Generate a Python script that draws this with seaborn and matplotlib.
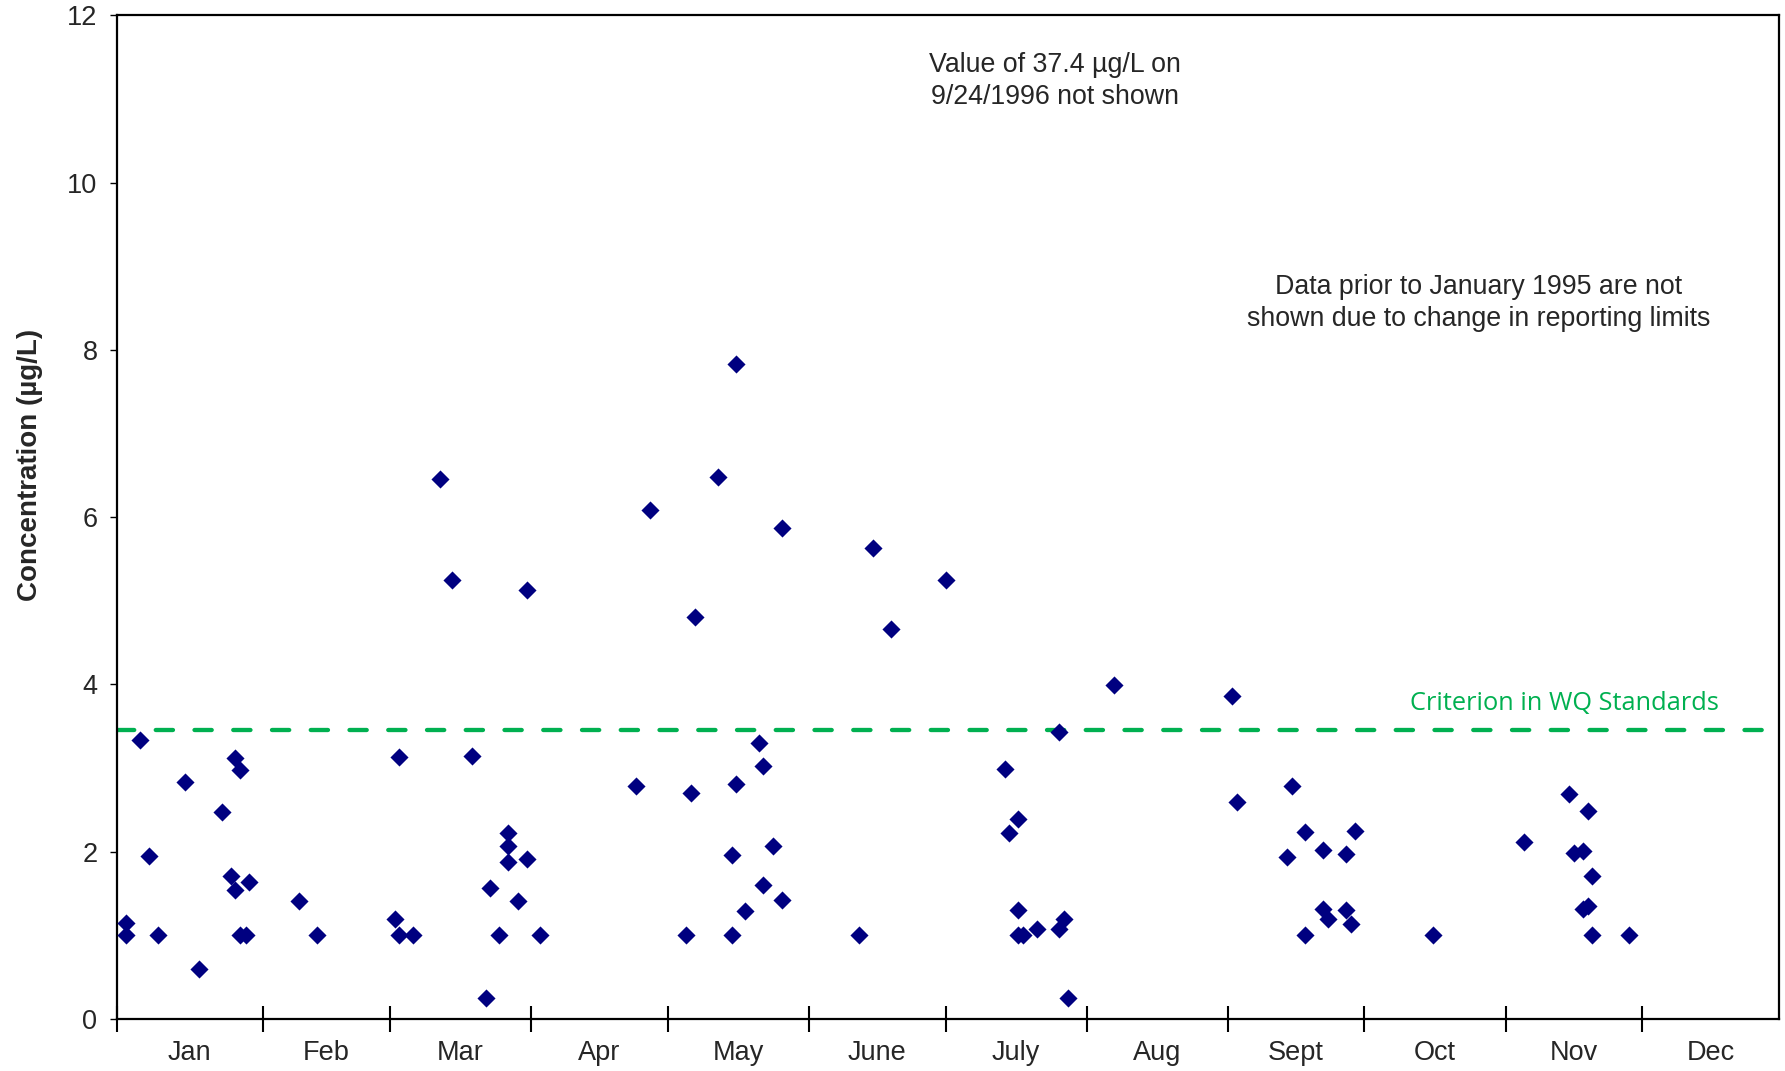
import matplotlib
matplotlib.use("Agg")
import matplotlib.pyplot as plt
import seaborn as sns
import pandas as pd
import numpy as np

# Sample day-of-year (1 = Jan 1) and measured concentration (ug/L)
day_of_year = [
    2, 2, 5, 7, 9, 15, 18, 23, 25, 26, 26, 27, 27, 28.3, 29,
    40, 44,
    61, 62, 62, 65, 71, 73.5, 78, 81, 82, 84, 86, 86, 86, 88, 90, 90,
    93, 114, 117,
    125, 126, 127, 132, 135, 135, 136, 136, 138, 141, 142, 142, 144, 146, 146,
    163, 166, 170,
    182, 195, 196, 198, 198, 198, 199, 202, 207, 207, 208, 209,
    219,
    245, 246, 257, 258, 261, 261, 265, 265, 266, 270, 270, 271, 272,
    289,
    309, 319, 320, 322, 322, 323, 323, 324, 324, 332,
]
concentration = [
    1.15, 1.0, 3.34, 1.95, 1.0, 2.83, 0.6, 2.47, 1.71, 1.54, 3.12, 2.98, 1.0, 1.0, 1.64,
    1.41, 1.0,
    1.19, 1.0, 3.13, 1.0, 6.46, 5.25, 3.14, 0.25, 1.57, 1.0, 2.22, 2.07, 1.88, 1.41, 1.91, 5.13,
    1.0, 2.79, 6.08,
    1.0, 2.70, 4.81, 6.48, 1.96, 1.0, 2.81, 7.83, 1.29, 3.30, 3.03, 1.60, 2.07, 1.42, 5.87,
    1.0, 5.63, 4.66,
    5.25, 2.99, 2.22, 2.39, 1.30, 1.0, 1.0, 1.07, 3.43, 1.07, 1.20, 0.25,
    3.99,
    3.86, 2.59, 1.94, 2.79, 2.24, 1.0, 2.02, 1.32, 1.20, 1.97, 1.30, 1.13, 2.25,
    1.0,
    2.12, 2.69, 1.98, 2.01, 1.31, 1.35, 2.49, 1.71, 1.0, 1.0,
]

month_labels = ["Jan", "Feb", "Mar", "Apr", "May", "June",
                "July", "Aug", "Sept", "Oct", "Nov", "Dec"]
month_starts = [0, 32, 60, 91, 121, 152, 182, 213, 244, 274, 305, 335, 365]
criterion_value = 3.46

df = pd.DataFrame({"day": day_of_year, "conc": concentration})

sns.set_style("white")
plt.rcParams["font.family"] = ["Liberation Sans", "DejaVu Sans"]

fig = plt.figure(figsize=(17.85, 10.71), dpi=100)
ax = fig.add_axes([0.0655, 0.0486, 0.931, 0.9370])

sns.scatterplot(data=df, x="day", y="conc", marker="D", s=85,
                color="#000080", edgecolor="#000080", linewidth=0, ax=ax,
                zorder=3)

# Water-quality criterion
ax.axhline(criterion_value, color="#00B050", linewidth=3.1,
           dashes=(4, 5), dash_capstyle="round", zorder=2)
ax.text(351.8, criterion_value + 0.31, "Criterion in WQ Standards",
        color="#00B050", fontsize=18.3, ha="right", va="center",
        family=["Open Sans", "DejaVu Sans"])

ax.text(206, 11.22, "Value of 37.4 \u00b5g/L on\n9/24/1996 not shown",
        ha="center", va="center", fontsize=19.3, linespacing=1.3)
ax.text(299, 8.56, "Data prior to January 1995 are not\nshown due to change in reporting limits",
        ha="center", va="center", fontsize=19.3, linespacing=1.3)

ax.set_xlim(0, 365)
ax.set_ylim(0, 12)

# Month boundaries as major ticks, month names centered as minor labels
ax.set_xticks(month_starts[:-1])
ax.set_xticklabels([])
centers = [(a + b) / 2 for a, b in zip(month_starts[:-1], month_starts[1:])]
ax.set_xticks(centers, minor=True)
ax.set_xticklabels(month_labels, minor=True, fontsize=19.5)
ax.tick_params(axis="x", which="major", direction="inout", length=19,
               width=1.5, color="black", bottom=True)
ax.tick_params(axis="x", which="minor", length=0, pad=15, bottom=True)

ax.set_yticks(np.arange(0, 13, 2))
ax.tick_params(axis="y", which="major", direction="out", length=5,
               width=1, color="black", labelsize=19.5, left=True, pad=9)

ax.set_xlabel("")
ax.set_ylabel("Concentration (\u00b5g/L)", fontsize=20, fontweight="bold")
ax.yaxis.set_label_coords(-0.0445, 0.552)

for sp in ax.spines.values():
    sp.set_color("black")
    sp.set_linewidth(1.6)
    sp.set_visible(True)

fig.savefig("out.png", dpi=100)
